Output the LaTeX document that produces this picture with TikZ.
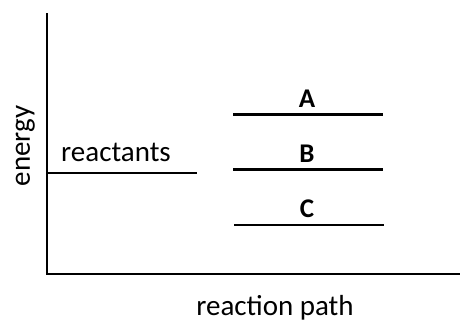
\documentclass[tikz,border=0pt]{standalone}
\usepackage{fontspec}
\setmainfont{Carlito}
\begin{document}
\begin{tikzpicture}[x=1pt,y=-1pt,
  lbl/.style={font=\fontsize{29}{31}\selectfont, inner sep=0pt, anchor=base},
  letter/.style={font=\fontsize{27}{30}\selectfont\bfseries, inner sep=0pt, anchor=base},
  axis/.style={line width=2.6pt},
  level/.style={line width=2.2pt}]
\useasboundingbox (0,0) rectangle (464,322);
% axes
\coordinate (top) at (47,13);
\coordinate (origin) at (47,274);
\coordinate (right) at (460,274);
\draw[axis] (top) -- (origin) -- (right);
% reactants
\coordinate (r1) at (47,173);
\coordinate (r2) at (197,173);
\draw[level] (r1) -- (r2);
\node[lbl, anchor=base west] (reactants) at (61,161) {reactants};
% levels
\coordinate (a1) at (233,114.5); \coordinate (a2) at (383,114.5);
\coordinate (b1) at (233,169.5); \coordinate (b2) at (383,169.5);
\coordinate (c1) at (234,224.8); \coordinate (c2) at (384,224.8);
\draw[level] (a1) -- (a2);
\draw[level] (b1) -- (b2);
\draw[level] (c1) -- (c2);
\node[letter] (A) at (307,107) {A};
\node[letter] (B) at (307,162) {B};
\node[letter] (C) at (307,217) {C};
% axis labels
\node[lbl, rotate=90] (energy) at (30,146) {energy};
\node[lbl] (path) at (275,315) {reaction path};
\end{tikzpicture}
\end{document}
